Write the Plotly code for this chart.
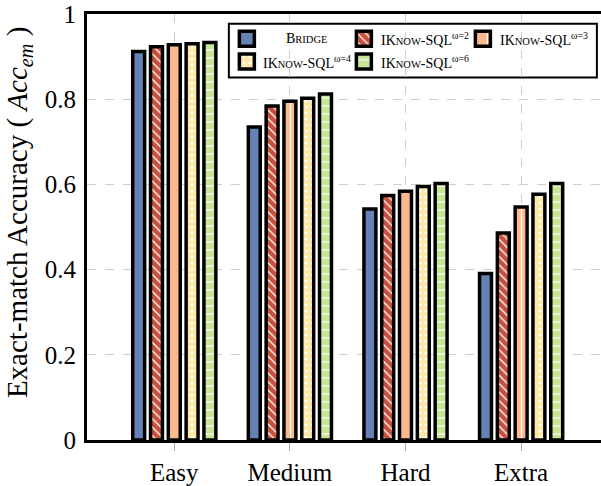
import plotly.graph_objects as go

SC = "<span style='font-size:10.5px'>{}</span>"

categories = ["Easy", "Medium", "Hard", "Extra"]
series_names = [
    "B" + SC.format("RIDGE"),
    "IK" + SC.format("NOW") + "-SQL<sup>ω=2</sup>",
    "IK" + SC.format("NOW") + "-SQL<sup>ω=3</sup>",
    "IK" + SC.format("NOW") + "-SQL<sup>ω=4</sup>",
    "IK" + SC.format("NOW") + "-SQL<sup>ω=6</sup>",
]
bridge = [0.912, 0.735, 0.542, 0.391]
iknow_w2 = [0.923, 0.784, 0.574, 0.486]
iknow_w3 = [0.928, 0.795, 0.584, 0.547]
iknow_w4 = [0.930, 0.802, 0.595, 0.577]
iknow_w6 = [0.933, 0.812, 0.602, 0.602]
yticks = [0, 0.2, 0.4, 0.6, 0.8, 1]
ytick_labels = ["0", "0.2", "0.4", "0.6", "0.8", "1"]
y_title = "Exact-match Accuracy ( <i>Acc</i><sub><i>em</i></sub> )"

series_values = [bridge, iknow_w2, iknow_w3, iknow_w4, iknow_w6]
colors = ["#6482B4", "#C8503C", "#FDB98A", "#FEE8A8", "#C8E696"]
patterns = [
    dict(shape=""),
    dict(shape="\\", fgcolor="white", bgcolor="#C8503C", size=6, solidity=0.22, fillmode="replace"),
    dict(shape="|", fgcolor="white", bgcolor="#FDB98A", size=11, solidity=0.12, fillmode="replace"),
    dict(shape=".", fgcolor="white", bgcolor="#FEE8A8", size=6, solidity=0.2, fillmode="replace"),
    dict(shape="-", fgcolor="white", bgcolor="#C8E696", size=8, solidity=0.15, fillmode="replace"),
]

FONT = "Liberation Serif"

# legend box layout (pixels inside the legend box; x from left, y from bottom)
LEG_DOMAIN_X = [0.276, 0.992]
LEG_DOMAIN_Y = [0.851, 0.977]
LEG_W, LEG_H = 368, 54
LEG_SW_X = [18, 135, 254, 18, 135]
LEG_SW_Y = [39, 39, 39, 16, 16]
LEG_TX_X = [78, 150, 269, 32, 150]
LEG_TX_ANCHOR = ["center", "left", "left", "left", "left"]
SW = 15

fig = go.Figure()
for name, vals, col, pat in zip(series_names, series_values, colors, patterns):
    fig.add_trace(go.Bar(
        x=categories, y=vals, name=name, showlegend=False,
        marker=dict(color=col, line=dict(color="black", width=3.5), pattern=pat),
        hoverinfo="skip",
    ))

# legend swatches drawn as bars on an auxiliary axis pair
for i, (col, pat) in enumerate(zip(colors, patterns)):
    fig.add_trace(go.Bar(
        x=[LEG_SW_X[i]], y=[SW], base=[LEG_SW_Y[i] - SW / 2],
        width=[SW], offset=-SW / 2,
        xaxis="x2", yaxis="y2", showlegend=False, hoverinfo="skip",
        marker=dict(color=col, line=dict(color="black", width=3.5), pattern=pat),
    ))
    fig.add_annotation(
        x=LEG_TX_X[i], y=LEG_SW_Y[i], xref="x2", yref="y2",
        text=series_names[i], showarrow=False,
        xanchor=LEG_TX_ANCHOR[i], yanchor="middle",
        font=dict(family=FONT, size=14, color="black"),
    )

fig.add_shape(
    type="rect", xref="x2 domain", yref="y2 domain", x0=0, x1=1, y0=0, y1=1,
    line=dict(color="black", width=2), fillcolor="white", layer="below",
)

# y-axis title as a rotated annotation
fig.add_annotation(
    x=-0.132, y=0.533, xref="paper", yref="paper", text=y_title,
    textangle=-90, showarrow=False, xanchor="center", yanchor="middle",
    font=dict(family=FONT, size=29, color="black"),
)

fig.update_layout(
    width=601, height=486,
    margin=dict(l=87, r=0, t=14, b=42),
    paper_bgcolor="white", plot_bgcolor="rgba(0,0,0,0)",
    barmode="group", bargap=0.23, bargroupgap=0.33,
    font=dict(family=FONT, size=25, color="black"),
    showlegend=False,
    xaxis=dict(
        range=[-0.755, 3.691], showline=True, linecolor="black", linewidth=3, mirror=True,
        showgrid=True, gridcolor="#cfcfcf", griddash="dash", gridwidth=1,
        ticks="outside", ticklen=8, tickcolor="#aaaaaa", tickwidth=1,
        tickfont=dict(family=FONT, size=25),
    ),
    yaxis=dict(
        range=[0, 1], tickvals=yticks, ticktext=ytick_labels,
        showline=True, linecolor="black", linewidth=3, mirror=False,
        showgrid=True, gridcolor="#cfcfcf", griddash="dash", gridwidth=1,
        zeroline=False, ticks="", ticklabelstandoff=3,
        tickfont=dict(family=FONT, size=25),
    ),
    xaxis2=dict(domain=LEG_DOMAIN_X, range=[0, LEG_W], visible=False, fixedrange=True),
    yaxis2=dict(domain=LEG_DOMAIN_Y, range=[0, LEG_H], visible=False, fixedrange=True,
                anchor="x2"),
)

fig.write_html(
    "out.html",
    config={"displayModeBar": False},
    post_script="document.body.style.margin='0px';document.body.style.overflow='hidden';",
)
